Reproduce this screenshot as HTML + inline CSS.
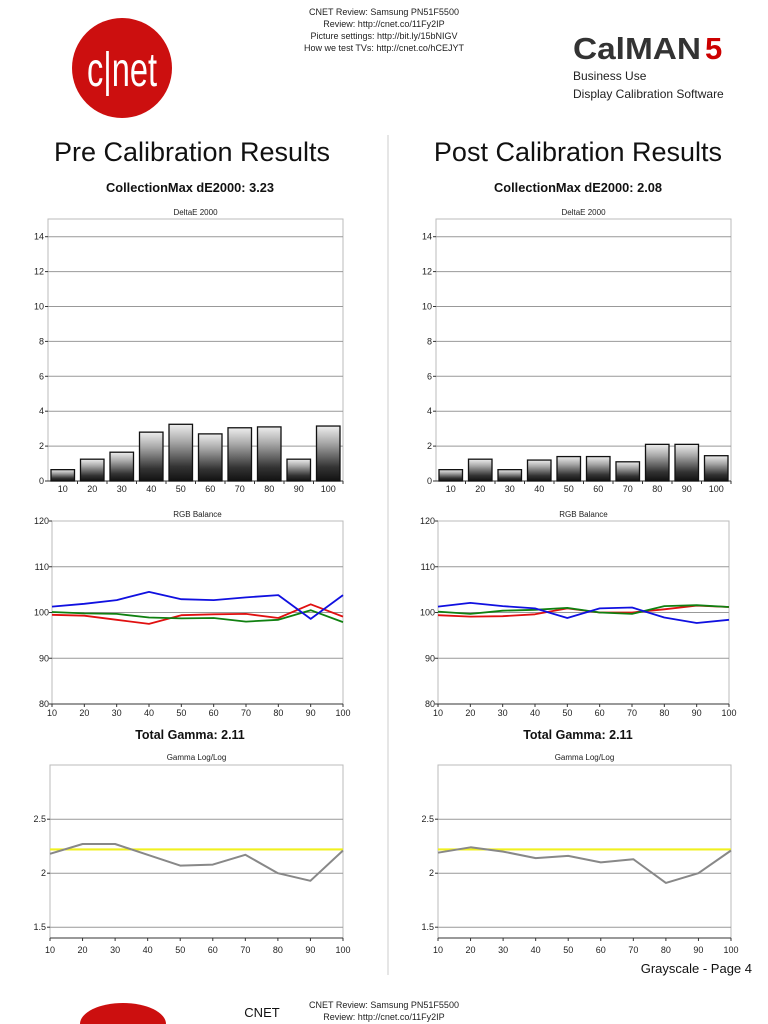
<!DOCTYPE html>
<html><head><meta charset="utf-8"><style>
html,body{margin:0;padding:0;background:#fff;width:768px;height:1024px;overflow:hidden}
svg{display:block;font-family:"Liberation Sans",sans-serif;overflow:hidden}
</style></head><body>
<svg id="s" width="768" height="1024" viewBox="0 0 768 1024" xmlns="http://www.w3.org/2000/svg">
<defs>
<linearGradient id="bg" x1="0" y1="1" x2="0" y2="0">
<stop offset="0" stop-color="#111"/><stop offset="0.25" stop-color="#333"/><stop offset="0.7" stop-color="#aaa"/><stop offset="1" stop-color="#eee"/>
</linearGradient>
</defs>
<circle cx="122" cy="68" r="50" fill="#cc0f0f"/>
<text x="122" y="86" font-size="48" fill="#fff" text-anchor="middle" textLength="70" lengthAdjust="spacingAndGlyphs">c|net</text>
<g font-size="9" text-anchor="middle" fill="#222">
<text x="384" y="15">CNET Review: Samsung PN51F5500</text>
<text x="384" y="27">Review: http://cnet.co/11Fy2IP</text>
<text x="384" y="39">Picture settings: http://bit.ly/15bNIGV</text>
<text x="384" y="51">How we test TVs: http://cnet.co/hCEJYT</text>
</g>
<text x="573" y="59" font-size="31" font-weight="bold" fill="#333" textLength="128" lengthAdjust="spacingAndGlyphs">CalMAN</text>
<text x="705" y="59" font-size="31" font-weight="bold" fill="#c00">5</text>
<text x="573" y="80" font-size="12" fill="#222">Business Use</text>
<text x="573" y="98" font-size="12" fill="#222">Display Calibration Software</text>
<line x1="388" y1="135" x2="388" y2="975" stroke="#ddd" stroke-width="1.5"/>
<text x="192" y="161" font-size="27" text-anchor="middle" fill="#111">Pre Calibration Results</text>
<text x="578" y="161" font-size="27" text-anchor="middle" fill="#111">Post Calibration Results</text>
<text x="190" y="192" font-size="12.5" font-weight="bold" text-anchor="middle" fill="#111" textLength="168" lengthAdjust="spacingAndGlyphs">CollectionMax dE2000: 3.23</text>
<text x="578" y="192" font-size="12.5" font-weight="bold" text-anchor="middle" fill="#111" textLength="168" lengthAdjust="spacingAndGlyphs">CollectionMax dE2000: 2.08</text>
<text x="190" y="739" font-size="12.5" font-weight="bold" text-anchor="middle" fill="#111">Total Gamma: 2.11</text>
<text x="578" y="739" font-size="12.5" font-weight="bold" text-anchor="middle" fill="#111">Total Gamma: 2.11</text>
<text x="752" y="973" font-size="13" text-anchor="end" fill="#111">Grayscale - Page 4</text>
<path d="M80,1024 A43,21 0 0 1 166,1024 Z" fill="#cc0f0f"/>
<text x="262" y="1017" font-size="13" text-anchor="middle" fill="#111">CNET</text>
<text x="384" y="1008" font-size="9" text-anchor="middle" fill="#222">CNET Review: Samsung PN51F5500</text>
<text x="384" y="1020" font-size="9" text-anchor="middle" fill="#222">Review: http://cnet.co/11Fy2IP</text>
<g id="g"></g>
</svg>
<script>
var g=document.getElementById('g'),h='';
function L(x1,y1,x2,y2,c,w){h+='<line x1="'+x1+'" y1="'+y1+'" x2="'+x2+'" y2="'+y2+'" stroke="'+c+'" stroke-width="'+w+'"/>';}
function T(x,y,t,a,s){h+='<text x="'+x+'" y="'+y+'" font-size="'+(s||9)+'" text-anchor="'+(a||'middle')+'" fill="#222">'+t+'</text>';}
function P(pts,c,w){h+='<polyline points="'+pts.join(' ')+'" fill="none" stroke="'+c+'" stroke-width="'+w+'" stroke-linejoin="round"/>';}
var xl=[10,20,30,40,50,60,70,80,90,100];
function delta(ox,vals){
 var l=48+ox,r=343+ox,t=219,b=481,k=17.45;
 T((l+r)/2,215,'DeltaE 2000','middle',8);
 h+='<rect x="'+l+'" y="'+t+'" width="'+(r-l)+'" height="'+(b-t)+'" fill="none" stroke="#bbb" stroke-width="1"/>';
 for(var v=2;v<=14;v+=2){var y=b-v*k;L(l,y,r,y,'#999',1);}
 for(var v=0;v<=14;v+=2){var y=b-v*k;L(l-3,y,l,y,'#333',1);T(l-4,y+3,v,'end',9);}
 L(l,b,r,b,'#333',1);
 var sw=(r-l)/10;
 for(var i=0;i<10;i++){var x=l+i*sw+3,y=b-vals[i]*k;
  h+='<rect x="'+x+'" y="'+y+'" width="'+(sw-6)+'" height="'+(vals[i]*k)+'" fill="url(#bg)" stroke="#111" stroke-width="1.3"/>';
  L(l+(i+1)*sw,b,l+(i+1)*sw,b+3,'#333',1);
  T(l+i*sw+sw/2,b+11,xl[i],'middle',9);}
}
function rgb(ox,R,G,B){
 var l=52+ox,r=343+ox,t=521,b=704,k=(b-t)/40;
 T((l+r)/2,517,'RGB Balance','middle',8);
 h+='<rect x="'+l+'" y="'+t+'" width="'+(r-l)+'" height="'+(b-t)+'" fill="none" stroke="#bbb" stroke-width="1"/>';
 for(var v=90;v<=110;v+=10){var y=b-(v-80)*k;L(l,y,r,y,'#999',1);}
 for(var v=80;v<=120;v+=10){var y=b-(v-80)*k;L(l-3,y,l,y,'#333',1);T(l-3,y+3,v,'end',9);}
 L(l,b,r,b,'#333',1);
 var sx=(r-l)/9;
 for(var i=0;i<10;i++){L(l+i*sx,b,l+i*sx,b+3,'#333',1);T(l+i*sx,b+12,xl[i],'middle',9);}
 [[R,'#e01010'],[G,'#108010'],[B,'#1010e0']].forEach(function(s){var p=[];for(var i=0;i<10;i++)p.push((l+i*sx).toFixed(1)+','+(b-(s[0][i]-80)*k).toFixed(1));P(p,s[1],1.8);});
}
function gam(ox,vals){
 var l=50+ox,r=343+ox,t=765,b=938,k=108;
 T((l+r)/2,760,'Gamma Log/Log','middle',8);
 h+='<rect x="'+l+'" y="'+t+'" width="'+(r-l)+'" height="'+(b-t)+'" fill="none" stroke="#bbb" stroke-width="1"/>';
 var Y=function(v){return b-(v-1.4)*k;};
 [1.5,2,2.5].forEach(function(v){L(l,Y(v),r,Y(v),'#999',1);L(l-3,Y(v),l,Y(v),'#333',1);T(l-4,Y(v)+3,v,'end',9);});
 L(l,b,r,b,'#333',1);
 var sx=(r-l)/9;
 for(var i=0;i<10;i++){L(l+i*sx,b,l+i*sx,b+3,'#333',1);T(l+i*sx,b+15,xl[i],'middle',9);}
 L(l,Y(2.22),r,Y(2.22),'#f0f020',2.2);
 var p=[];for(var i=0;i<10;i++)p.push((l+i*sx).toFixed(1)+','+Y(vals[i]).toFixed(1));P(p,'#888',2);
}
delta(0,[0.65,1.25,1.65,2.8,3.25,2.7,3.05,3.1,1.25,3.15]);
delta(388,[0.65,1.25,0.65,1.2,1.4,1.4,1.1,2.1,2.1,1.45]);
rgb(0,[99.5,99.3,98.4,97.5,99.4,99.6,99.7,98.8,101.8,99.1],[100.1,99.8,99.7,98.9,98.7,98.8,98.0,98.4,100.5,97.9],[101.3,101.9,102.7,104.5,102.9,102.7,103.3,103.8,98.6,103.8]);
rgb(386,[99.4,99.1,99.2,99.6,100.9,100.0,100.0,100.7,101.5,101.2],[100.2,99.7,100.4,100.6,101.0,100.0,99.7,101.4,101.6,101.2],[101.3,102.1,101.4,100.9,98.8,100.9,101.1,98.9,97.7,98.4]);
gam(0,[2.18,2.27,2.27,2.17,2.07,2.08,2.17,2.0,1.93,2.21]);
gam(388,[2.19,2.24,2.2,2.14,2.16,2.1,2.13,1.91,2.0,2.21]);
g.innerHTML=h;
</script>
</body></html>
